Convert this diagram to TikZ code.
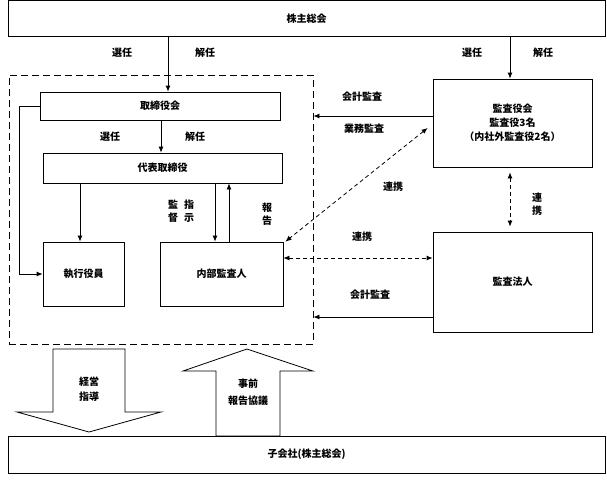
\documentclass[tikz,border=0pt]{standalone}
\usepackage{fontspec}
\setmainfont{Noto Sans CJK JP}
\usetikzlibrary{arrows.meta}

\tikzset{
  box/.style={draw, line width=0.8pt, inner sep=0pt, align=center},
  lbl/.style={inner sep=1pt, align=center},
  arr/.style={-{Latex[length=6pt,width=5pt]}, line width=0.8pt},
  link/.style={{Latex[length=6pt,width=5pt]}-{Latex[length=6pt,width=5pt]}, line width=0.8pt, dash pattern=on 4pt off 3pt},
  bigarrow/.style={draw, line width=0.8pt, line join=miter},
}

\begin{document}
\begin{tikzpicture}[x=1pt, y=-1pt, font=\fontsize{10}{12.5}\selectfont\bfseries]
	\useasboundingbox (0,0) rectangle (607,483);
	% boxes
	\node[box, minimum width=597, minimum height=36] (soukai) at (306.5,18.5) {株主総会};
	\node[draw, line width=0.8pt, dash pattern=on 7pt off 4pt, minimum width=304, minimum height=269] (group) at (161,209.5) {};
	\node[box, minimum width=240, minimum height=28] (tori) at (160,106) {取締役会};
	\node[box, minimum width=239, minimum height=30] (daihyo) at (162.5,168) {代表取締役};
	\node[box, minimum width=81, minimum height=64] (shikko) at (83.5,274) {執行役員};
	\node[box, minimum width=123, minimum height=64] (naibu) at (221.5,274) {内部監査人};
	\node[box, minimum width=159, minimum height=88] (kansa) at (512.5,123) {監査役会\\[1.5pt]監査役3名\\[1.5pt]（内社外監査役2名）};
	\node[box, minimum width=159, minimum height=100] (hojin) at (512.5,282) {監査法人};
	\node[box, minimum width=597, minimum height=37] (kogaisha) at (306.5,454.5) {子会社(株主総会)};

	% columns and rows for connectors
	\coordinate (c1) at (168,0);
	\coordinate (c2) at (510,0);
	\coordinate (c3) at (161,0);
	\coordinate (c4) at (80,0);
	\coordinate (c5) at (215,0);
	\coordinate (c6) at (229,0);
	\coordinate (c7) at (19,0);
	\coordinate (r1) at (0,116);
	\coordinate (r2) at (0,258);
	\coordinate (r3) at (0,317);

	\draw[arr] (soukai.south -| c1) -- (tori.north -| c1);
	\draw[arr] (soukai.south -| c2) -- (kansa.north -| c2);
	\draw[arr] (tori.south -| c3) -- (daihyo.north -| c3);
	\draw[arr] (daihyo.south -| c4) -- (shikko.north -| c4);
	\draw[arr] (daihyo.south -| c5) -- (naibu.north -| c5);
	\draw[arr] (naibu.north -| c6) -- (daihyo.south -| c6);
	\draw[arr] (tori.west) -- (tori.west -| c7) -- (c7 |- shikko.west) -- (shikko.west);
	\draw[arr] (kansa.west |- r1) -- (group.east |- r1);
	\draw[arr] (hojin.west |- r3) -- (group.east |- r3);
	\draw[link] ([shift={(-5,5)}]kansa.west) -- ([xshift=2pt]naibu.north east);
	\draw[link] (naibu.east |- r2) -- (hojin.west |- r2);
	\draw[link, shorten <=5pt, shorten >=5pt] (kansa.south -| c2) -- (hojin.north -| c2);

	% labels
	\node[lbl] (sen1) at (122,53) {選任};
	\node[lbl] (kai1) at (205,53) {解任};
	\node[lbl] (sen2) at (472,53) {選任};
	\node[lbl] (kai2) at (543,53) {解任};
	\node[lbl] (sen3) at (110,137) {選任};
	\node[lbl] (kai3) at (195,137) {解任};
	\node[lbl] (kan) at (173,211) {監\\督};
	\node[lbl] (shi) at (189,211) {指\\示};
	\node[lbl] (hou) at (267,214) {報\\告};
	\node[lbl] (kaikei1) at (362,97) {会計監査};
	\node[lbl] (gyomu) at (364,129) {業務監査};
	\node[lbl] (ren1) at (393,187) {連携};
	\node[lbl] (ren2) at (362,237) {連携};
	\node[lbl] (ren3) at (537,204) {連\\携};
	\node[lbl] (kaikei2) at (370,295) {会計監査};

	% big arrows
	\draw[bigarrow] (53,349) -- (125,349) -- (125,412) -- (161,412) -- (89,432) -- (17,412) -- (53,412) -- cycle;
	\node[lbl] (keiei) at (89,389) {経営\\[3pt]指導};
	\draw[bigarrow] (247,349) -- (313,371) -- (280,371) -- (280,436) -- (216,436) -- (216,371) -- (183,371) -- cycle;
	\node[lbl] (jizen) at (248,392) {事前\\[4pt]報告協議};
\end{tikzpicture}
\end{document}
